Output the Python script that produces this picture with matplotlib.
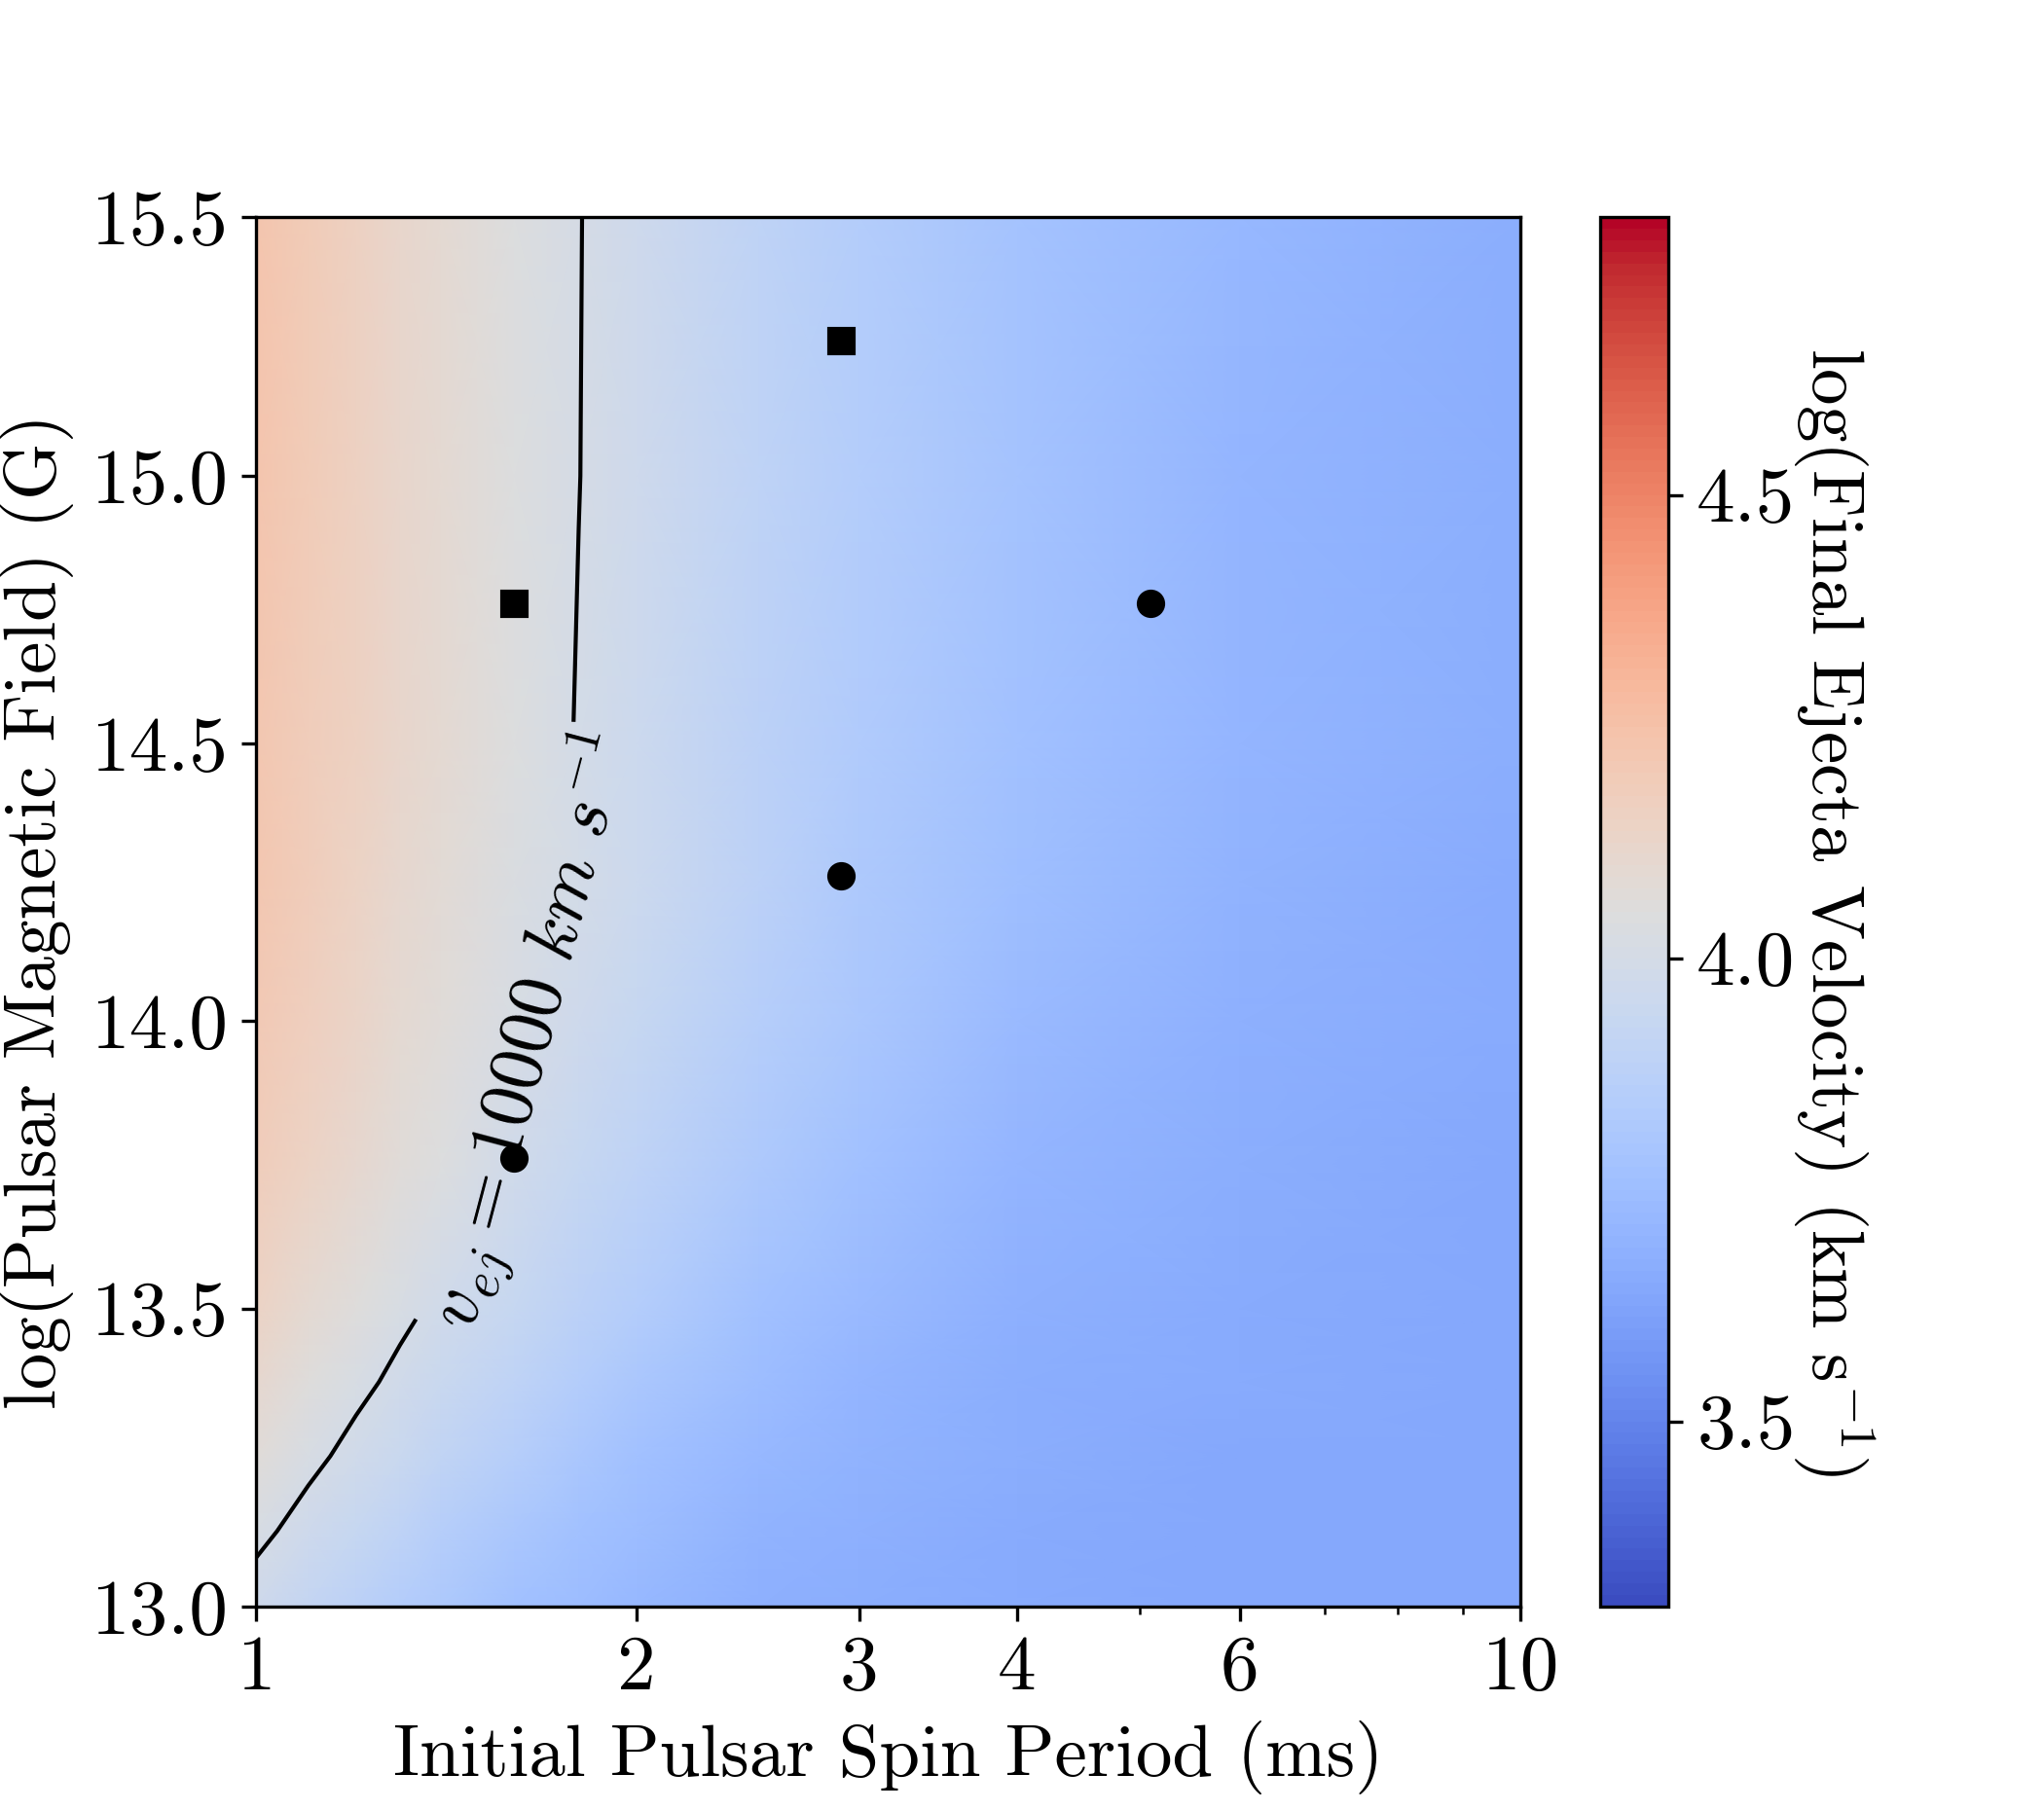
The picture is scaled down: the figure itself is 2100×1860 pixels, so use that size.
"""Mapa log(v_ej) no plano periodo inicial x campo magnetico do pulsar,
com o contorno de 10000 km/s e os modelos marcados."""
import matplotlib
matplotlib.use("Agg")
import matplotlib.pyplot as plt
import numpy as np
from matplotlib.ticker import FixedLocator, FixedFormatter, NullLocator

plt.rcParams.update({
    "font.family": "serif",
    "font.serif": ["cmr10"],
    "mathtext.fontset": "cm",
    "axes.unicode_minus": False,
    "font.size": 18,
    "xtick.labelsize": 19,
    "ytick.labelsize": 19,
})

# grade: periodo (ms), log B (G), log v_ej (km/s)
P_GRID = [1.0, 1.1, 1.2, 1.3, 1.4, 1.6, 1.8, 2.0, 2.5, 3.0, 4.0, 6.0, 10.0]
B_GRID = [13.0, 13.125, 13.25, 13.375, 13.5, 13.75, 14.0, 14.25, 14.5, 15.0, 15.5]
LOG_VEJ = [
    [3.966, 3.920, 3.880, 3.846, 3.818, 3.773, 3.741, 3.717, 3.683, 3.666, 3.652, 3.645, 3.643],
    [4.019, 3.971, 3.930, 3.893, 3.862, 3.811, 3.772, 3.744, 3.699, 3.676, 3.657, 3.647, 3.644],
    [4.067, 4.019, 3.977, 3.939, 3.906, 3.851, 3.808, 3.774, 3.720, 3.690, 3.663, 3.649, 3.644],
    [4.108, 4.061, 4.019, 3.982, 3.948, 3.891, 3.844, 3.807, 3.744, 3.707, 3.672, 3.651, 3.645],
    [4.141, 4.096, 4.055, 4.018, 3.985, 3.927, 3.879, 3.840, 3.770, 3.727, 3.683, 3.655, 3.645],
    [4.186, 4.143, 4.105, 4.070, 4.038, 3.983, 3.936, 3.896, 3.820, 3.769, 3.710, 3.666, 3.648],
    [4.208, 4.168, 4.132, 4.099, 4.068, 4.015, 3.970, 3.931, 3.856, 3.803, 3.737, 3.681, 3.653],
    [4.219, 4.179, 4.144, 4.112, 4.083, 4.031, 3.988, 3.950, 3.877, 3.824, 3.757, 3.695, 3.659],
    [4.223, 4.184, 4.150, 4.118, 4.089, 4.039, 3.996, 3.959, 3.887, 3.835, 3.768, 3.704, 3.664],
    [4.226, 4.188, 4.153, 4.122, 4.093, 4.043, 4.001, 3.965, 3.893, 3.842, 3.775, 3.711, 3.669],
    [4.226, 4.188, 4.154, 4.122, 4.094, 4.044, 4.002, 3.966, 3.895, 3.843, 3.777, 3.713, 3.670],
]

# modelos destacados
SQ_P = [1.6, 2.9]
SQ_B = [14.76, 15.26]
CIRC_P = [5.1, 2.9, 1.6]
CIRC_B = [14.76, 14.26, 13.76]

X_TICKS = [1, 2, 3, 4, 6, 10]
Y_TICKS = [13.0, 13.5, 14.0, 14.5, 15.0, 15.5]
CB_TICKS = [3.5, 4.0, 4.5]
VMIN, VMAX = 3.3, 4.8

fig = plt.figure(figsize=(7, 6.2), dpi=300)
ax = fig.add_axes([0.1252, 0.1124, 0.6186, 0.7677])
cax = fig.add_axes([0.7829, 0.1124, 0.0333, 0.7677])

ax.set_xscale("log")
ax.set_yscale("log")

cmap = plt.get_cmap("coolwarm").resampled(120)
Z = np.array(LOG_VEJ)
mesh = ax.pcolormesh(P_GRID, B_GRID, Z, shading="gouraud", cmap=cmap,
                     vmin=VMIN, vmax=VMAX, rasterized=True)

cs = ax.contour(P_GRID, B_GRID, Z, levels=[4.0], colors="k", linewidths=1.0)
ax.clabel(cs, fmt={4.0: r"$v_{ej} = 10000\ km\ s^{-1}$"}, manual=[(1.57, 14.0)],
          inline=True, inline_spacing=6, fontsize=18.5)

ax.plot(SQ_P, SQ_B, "ks", ms=6)
ax.plot(CIRC_P, CIRC_B, "ko", ms=6)

ax.set_xlim(1, 10)
ax.set_ylim(13.0, 15.5)
ax.xaxis.set_major_locator(FixedLocator(X_TICKS))
ax.xaxis.set_major_formatter(FixedFormatter([str(t) for t in X_TICKS]))
ax.yaxis.set_major_locator(FixedLocator(Y_TICKS))
ax.yaxis.set_major_formatter(FixedFormatter([f"{t:.1f}" for t in Y_TICKS]))
ax.yaxis.set_minor_locator(NullLocator())

ax.set_xlabel("Initial Pulsar Spin Period (ms)")
ax.set_ylabel("log(Pulsar Magnetic Field) (G)")

cb = fig.colorbar(mesh, cax=cax)
cb.set_ticks(CB_TICKS)
cb.set_ticklabels([f"{t:.1f}" for t in CB_TICKS])
cb.ax.tick_params(labelsize=19)
cb.set_label(r"log(Final Ejecta Velocity) (km s$^{-1}$)", rotation=270, labelpad=20)

fig.savefig("out.png", dpi=300)
